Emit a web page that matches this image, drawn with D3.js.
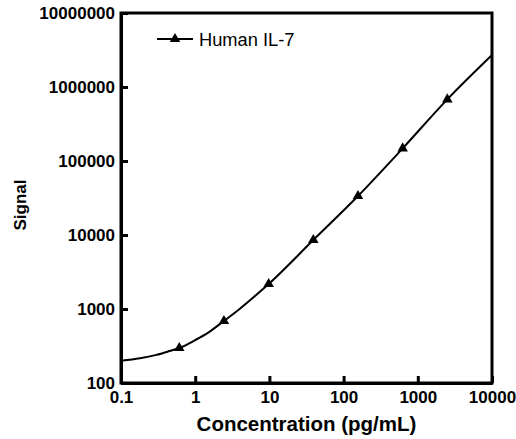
<!DOCTYPE html>
<html>
<head>
<meta charset="utf-8">
<script src="https://cdn.jsdelivr.net/npm/d3@7"></script>
<style>
  body { margin: 0; background: #fff; }
  svg text { font-family: "Liberation Sans", Arial, sans-serif; fill: #000; }
  .axis text { font-size: 17px; font-weight: bold; }
  .axis path, .axis line { stroke: #000; stroke-width: 3; }
</style>
</head>
<body>
<div id="chart-area"></div>
<script>
// measured points (pg/mL, signal)
const concentrations = [0.61, 2.44, 9.77, 39.06, 156.25, 625, 2500];
const signals = [297, 689, 2178, 8550, 33600, 148000, 680000];

// fitted curve
const curveConc = [0.1, 0.18, 0.3, 0.45, 0.61, 1, 1.5, 2.44, 4, 6, 9.77, 39.06, 156.25, 625, 2500, 10000];
const curveSignal = [200, 216, 240, 270, 297, 380, 480, 689, 1010, 1420, 2178, 8550, 33600, 148000, 680000, 2700000];

const xTicks = [0.1, 1, 10, 100, 1000, 10000];
const yTicks = [100, 1000, 10000, 100000, 1000000, 10000000];
const seriesName = "Human IL-7";

const chartSize = { width: 516, height: 439 };
const plot = { left: 121, right: 492, top: 13, bottom: 383 };

const svg = d3
  .select("#chart-area")
  .append("svg")
  .attr("width", chartSize.width)
  .attr("height", chartSize.height);

const x = d3.scaleLog().domain([0.1, 10000]).range([plot.left, plot.right]);
const y = d3.scaleLog().domain([100, 10000000]).range([plot.bottom, plot.top]);

// frame
svg.append("rect")
  .attr("x", plot.left)
  .attr("y", plot.top)
  .attr("width", plot.right - plot.left)
  .attr("height", plot.bottom - plot.top)
  .attr("fill", "none")
  .attr("stroke", "#000")
  .attr("stroke-width", 3);

const xAxis = d3.axisBottom(x)
  .tickValues(xTicks)
  .tickFormat(d => String(d))
  .tickSizeInner(-7)
  .tickSizeOuter(0)
  .tickPadding(8);

const yAxis = d3.axisLeft(y)
  .tickValues(yTicks)
  .tickFormat(d => String(d))
  .tickSizeInner(-7)
  .tickSizeOuter(0)
  .tickPadding(6);

svg.append("g")
  .attr("class", "axis x-axis")
  .attr("transform", `translate(0,${plot.bottom})`)
  .call(xAxis);

svg.append("g")
  .attr("class", "axis y-axis")
  .attr("transform", `translate(${plot.left},0)`)
  .call(yAxis);

// fitted curve
const line = d3.line()
  .x(d => x(d[0]))
  .y(d => y(d[1]))
  .curve(d3.curveMonotoneX);

svg.append("path")
  .attr("d", line(curveConc.map((c, i) => [c, curveSignal[i]])))
  .attr("fill", "none")
  .attr("stroke", "#000")
  .attr("stroke-width", 2);

const tri = d3.symbol().type(d3.symbolTriangle).size(48);

svg.append("g")
  .selectAll("path")
  .data(concentrations)
  .join("path")
  .attr("d", tri)
  .attr("transform", (c, i) => `translate(${x(c)},${y(signals[i])})`)
  .attr("fill", "#000");

// legend
const legend = svg.append("g").attr("transform", "translate(157,39)");
legend.append("line")
  .attr("x1", 0).attr("x2", 36)
  .attr("stroke", "#000").attr("stroke-width", 2);
legend.append("path")
  .attr("d", tri)
  .attr("transform", "translate(18,0)");
legend.append("text")
  .attr("x", 42)
  .attr("dy", "0.36em")
  .style("font-size", "18.3px")
  .text(seriesName);

// axis titles
svg.append("text")
  .attr("x", (plot.left + plot.right) / 2)
  .attr("y", 431)
  .attr("text-anchor", "middle")
  .style("font-size", "20.5px")
  .style("font-weight", "bold")
  .text("Concentration (pg/mL)");

svg.append("text")
  .attr("transform", "rotate(-90)")
  .attr("x", -205)
  .attr("y", 26)
  .attr("text-anchor", "middle")
  .style("font-size", "17px")
  .style("font-weight", "bold")
  .text("Signal");
</script>
</body>
</html>
